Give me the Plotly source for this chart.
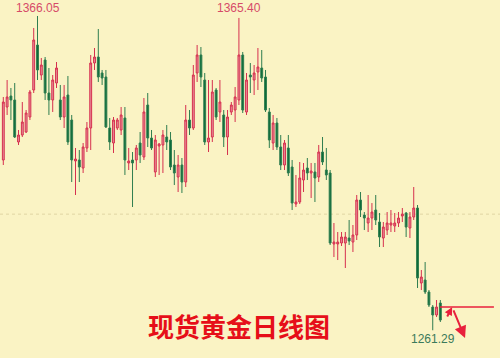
import plotly.graph_objects as go

# ---- data (daily gold OHLC) ----
day = list(range(116))
opens = [1318.05,1335.71,1339.38,1338.05,1324.05,1326.38,1327.38,1332.38,1341.38,1356.38,
         1346.38,1351.38,1340.38,1338.05,1343.71,1338.05,1332.38,1339.71,1331.38,1317.71,
         1318.05,1315.38,1322.05,1328.71,1350.38,1352.38,1347.05,1345.71,1328.71,1323.71,
         1328.71,1328.05,1332.05,1317.05,1318.05,1318.05,1323.71,1319.05,1336.38,1325.38,
         1314.05,1322.71,1323.05,1325.71,1324.71,1316.38,1312.38,1316.38,1310.71,1331.38,
         1328.71,1347.05,1353.05,1344.71,1324.05,1325.71,1341.38,1334.05,1333.05,1325.71,
         1334.05,1334.71,1338.05,1353.05,1334.05,1346.38,1344.71,1347.38,1348.71,1345.71,
         1334.05,1323.71,1330.38,1322.38,1316.38,1322.05,1315.71,1303.38,1304.05,1311.38,
         1315.38,1313.71,1314.05,1312.38,1320.71,1314.71,1313.71,1290.05,1290.05,1290.38,
         1290.38,1292.05,1290.71,1293.05,1304.71,1299.71,1297.05,1298.71,1301.38,1297.38,
         1292.05,1294.71,1296.38,1296.05,1297.05,1299.38,1300.38,1295.38,1299.05,1302.05,
         1277.05,1278.05,1274.05,1269.05,1266.38,1270.38]
highs = [1339.05,1344.71,1342.05,1343.71,1328.05,1337.38,1334.71,1341.38,1362.05,1366.05,
         1352.05,1352.38,1348.71,1346.38,1350.71,1343.05,1343.05,1346.05,1333.05,1322.05,
         1321.38,1323.71,1330.71,1353.05,1355.38,1361.71,1348.05,1348.05,1332.05,1332.38,
         1332.05,1335.71,1335.71,1322.05,1320.71,1323.05,1327.38,1338.71,1340.38,1328.05,
         1326.38,1323.71,1328.05,1329.71,1327.38,1321.38,1319.71,1318.71,1336.38,1334.71,
         1349.71,1356.38,1355.71,1347.05,1344.71,1344.71,1342.05,1344.71,1334.71,1334.71,
         1337.38,1342.38,1365.40,1354.05,1347.05,1350.38,1349.71,1355.38,1354.71,1348.05,
         1335.38,1333.05,1332.05,1326.38,1324.71,1326.38,1318.05,1313.05,1317.38,1317.05,
         1318.71,1317.05,1317.05,1323.05,1325.71,1322.05,1314.71,1297.05,1294.05,1294.05,
         1294.05,1298.05,1296.38,1306.38,1307.38,1300.71,1306.38,1303.71,1306.38,1300.38,
         1297.38,1300.71,1301.38,1300.38,1300.71,1302.05,1300.71,1300.71,1309.05,1303.05,
         1281.38,1284.05,1274.71,1269.71,1271.38,1271.38]
lows = [1316.38,1333.05,1331.38,1325.38,1323.05,1325.71,1327.05,1331.38,1340.38,1344.71,
        1344.71,1338.05,1333.05,1334.05,1342.05,1331.38,1328.71,1323.05,1310.71,1306.38,
        1310.71,1313.71,1320.71,1321.38,1348.05,1344.05,1343.05,1328.71,1321.38,1320.38,
        1328.05,1326.38,1313.05,1314.71,1302.38,1314.71,1317.05,1318.05,1322.38,1321.38,
        1312.38,1313.05,1313.71,1321.38,1314.71,1309.71,1307.38,1307.05,1309.05,1326.38,
        1328.05,1344.05,1342.38,1323.05,1320.71,1324.05,1331.38,1330.71,1322.38,1319.71,
        1333.05,1330.71,1336.38,1333.71,1333.05,1340.38,1339.71,1341.38,1344.05,1334.05,
        1322.05,1321.38,1321.38,1314.71,1314.71,1312.71,1301.38,1302.38,1303.38,1307.38,
        1311.38,1305.38,1304.05,1310.71,1316.38,1311.38,1289.71,1285.71,1284.71,1289.38,
        1282.05,1289.71,1287.38,1291.38,1299.05,1294.71,1294.05,1294.71,1296.38,1289.05,
        1289.05,1293.05,1294.05,1294.05,1295.71,1297.38,1292.38,1292.05,1298.05,1275.38,
        1274.71,1273.38,1269.05,1261.29,1265.71,1264.05]
closes = [1337.38,1339.05,1338.05,1325.71,1326.38,1330.71,1333.71,1340.71,1358.05,1348.05,
          1349.71,1340.38,1338.05,1344.71,1348.71,1332.38,1339.05,1324.05,1318.05,1318.38,
          1315.71,1322.38,1328.71,1350.38,1352.38,1345.71,1345.38,1329.05,1324.05,1331.38,
          1331.38,1333.05,1318.05,1317.71,1317.05,1322.05,1319.71,1334.05,1325.38,1322.05,
          1324.71,1323.38,1326.38,1324.05,1315.71,1313.71,1316.38,1310.71,1331.38,1328.71,
          1346.38,1353.05,1345.71,1324.05,1325.38,1340.71,1332.38,1337.38,1325.71,1332.38,
          1336.38,1339.05,1353.05,1334.71,1344.71,1345.71,1347.05,1349.05,1345.38,1334.71,
          1324.71,1330.38,1322.38,1316.38,1323.71,1313.71,1303.71,1304.05,1312.05,1314.71,
          1313.71,1314.38,1312.05,1320.71,1317.38,1313.05,1290.38,1290.71,1290.71,1292.38,
          1292.38,1291.05,1293.05,1304.71,1301.38,1298.71,1298.71,1300.71,1298.05,1292.38,
          1295.71,1297.05,1297.05,1297.05,1298.71,1300.05,1295.71,1299.05,1302.05,1278.71,
          1279.05,1274.05,1269.71,1266.38,1269.05,1264.71]

level_1300 = 1300.0
resist_level = 1269.05
title_text = "现货黄金日线图"

BG = "#faf3c4"
RED_LINE, RED_FILL = "#d6304f", "#e6909a"
GRN_LINE, GRN_FILL = "#2f7d50", "#0b6b37"

fig = go.Figure()
fig.add_trace(go.Candlestick(
    x=day, open=opens, high=highs, low=lows, close=closes,
    increasing=dict(line=dict(color=RED_LINE, width=1), fillcolor=RED_FILL),
    decreasing=dict(line=dict(color=GRN_LINE, width=1), fillcolor=GRN_FILL),
    whiskerwidth=0, hoverinfo="skip", showlegend=False,
))

# dotted 1300 level
fig.add_shape(type="line", xref="paper", x0=0, x1=1, yref="y", y0=level_1300, y1=level_1300,
              line=dict(color="#e0d5a4", width=1, dash="dot"), layer="below")

# red horizontal line at the last candles
fig.add_shape(type="line", xref="x", yref="y", x0=114.9, x1=129.1,
              y0=resist_level, y1=resist_level, line=dict(color="#e8203c", width=1.6))

# arrows
fig.add_annotation(x=121.5, y=1258.7, ax=118.3, ay=1268.4, xref="x", yref="y",
                   axref="x", ayref="y", showarrow=True, arrowhead=2, arrowsize=1.2,
                   arrowwidth=2, arrowcolor="#e8203c", text="")
fig.add_annotation(x=118.1, y=1269.0, ax=116.6, ay=1265.4, xref="x", yref="y",
                   axref="x", ayref="y", showarrow=True, arrowhead=2, arrowsize=0.8,
                   arrowwidth=2, arrowcolor="#e8203c", text="")

# value labels
i_hi1 = 9
i_hi2 = 62
i_lo = 113
lab_font_hi = dict(family="Liberation Sans, Arial", size=12, color="#d64a68")
fig.add_annotation(x=day[i_hi1], y=highs[i_hi1], text=f"{highs[i_hi1]:.2f}", showarrow=False,
                   yanchor="middle", xanchor="center", yshift=8, font=lab_font_hi)
fig.add_annotation(x=day[i_hi2], y=highs[i_hi2], text=f"{highs[i_hi2]:.2f}", showarrow=False,
                   yanchor="middle", xanchor="center", yshift=10, font=lab_font_hi)
fig.add_annotation(x=day[i_lo], y=lows[i_lo], text=f"{lows[i_lo]:.2f}", showarrow=False,
                   yanchor="top", xanchor="center", yshift=0,
                   font=dict(family="Liberation Sans, Arial", size=12, color="#3b7a5a"))

# title text
fig.add_annotation(x=0.478, y=0.092, xref="paper", yref="paper", text=f"<b>{title_text}</b>",
                   showarrow=False, xanchor="center", yanchor="middle",
                   font=dict(family="Noto Sans CJK SC", size=26, color="#e60f19"))

fig.update_layout(
    width=500, height=358, margin=dict(l=0, r=0, t=0, b=0),
    paper_bgcolor=BG, plot_bgcolor=BG, showlegend=False, hovermode=False,
    xaxis=dict(range=[-0.87, 130.7], visible=False, rangeslider=dict(visible=False),
               showgrid=False, zeroline=False),
    yaxis=dict(range=[1252.05, 1371.38], visible=False, showgrid=False, zeroline=False),
)

fig.write_html("out.html")
